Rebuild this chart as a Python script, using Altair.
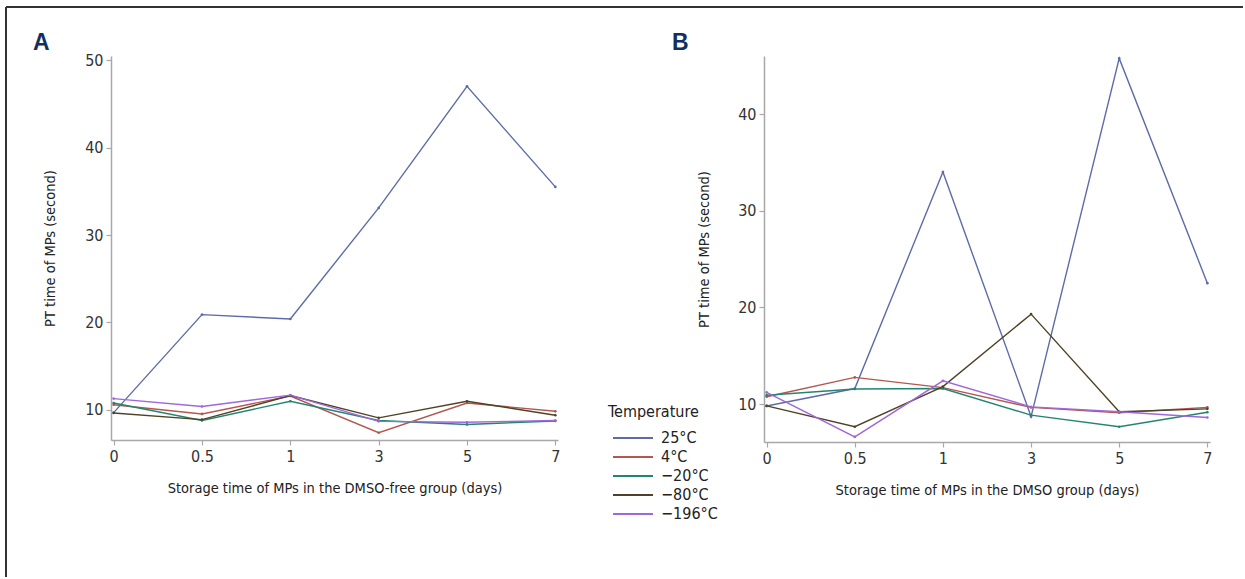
import altair as alt
import pandas as pd

days = ["0", "0.5", "1", "3", "5", "7"]
temps = ["25°C", "4°C", "−20°C", "−80°C", "−196°C"]
colors = ["#5d6ca8", "#b3574f", "#238571", "#4f4226", "#a066dc"]

# Panel A: DMSO-free group
a_25 = [9.7, 20.9, 20.4, 33.1, 47.0, 35.5]
a_4 = [10.6, 9.55, 11.6, 7.4, 10.8, 9.85]
a_m20 = [10.8, 8.8, 11.0, 8.8, 8.35, 8.75]
a_m80 = [9.66, 8.9, 11.65, 9.1, 11.0, 9.4]
a_m196 = [11.3, 10.4, 11.7, 8.7, 8.6, 8.8]

# Panel B: DMSO group
b_25 = [9.8, 11.6, 34.0, 8.7, 45.75, 22.5]
b_4 = [10.75, 12.75, 11.7, 9.65, 9.1, 9.65]
b_m20 = [10.9, 11.55, 11.6, 8.85, 7.65, 9.15]
b_m80 = [9.8, 7.65, 11.8, 19.3, 9.2, 9.5]
b_m196 = [11.2, 6.6, 12.4, 9.7, 9.2, 8.6]

a_ticks = [10, 20, 30, 40, 50]
b_ticks = [10, 20, 30, 40]

FONT = "DejaVu Sans Condensed, Roboto, sans-serif"
LETTER_FONT = "Liberation Sans"


def long_df(series):
    rows = []
    for t, vals in zip(temps, series):
        for d, v in zip(days, vals):
            rows.append({"day": d, "temp": t, "pt": v})
    return pd.DataFrame(rows)


def panel(series, ydom, yticks, xtitle, width, height, ytitle_x, letter, letter_x, legend):
    df = long_df(series)
    if legend is not None:
        color = alt.Color("temp:N", sort=temps,
                          scale=alt.Scale(domain=temps, range=colors), legend=legend)
    else:
        color = alt.Color("temp:N", sort=temps,
                          scale=alt.Scale(domain=temps, range=colors), legend=None)
    lines = alt.Chart(df).mark_line(
        strokeWidth=1.4,
        point=alt.OverlayMarkDef(size=7, filled=True, opacity=1),
    ).encode(
        x=alt.X(
            "day:N",
            sort=days,
            scale=alt.Scale(type="point", padding=0.03),
            axis=alt.Axis(title=xtitle, labelAngle=0, titleY=48, titleBaseline="middle"),
        ),
        y=alt.Y(
            "pt:Q",
            scale=alt.Scale(domain=ydom, nice=False, zero=False),
            axis=alt.Axis(
                values=yticks,
                title="PT time of MPs (second)",
                titleX=ytitle_x,
                titleBaseline="middle",
            ),
        ),
        color=color,
    )
    lab = alt.Chart(pd.DataFrame({"t": [letter]})).mark_text(
        font=LETTER_FONT, fontSize=23, fontWeight="bold", color="#12305f",
        align="left", baseline="alphabetic",
    ).encode(text="t:N", x=alt.value(letter_x), y=alt.value(-6))
    return alt.layer(lines, lab).properties(width=width, height=height)


legend_a = alt.Legend(
    title="Temperature",
    orient="none",
    legendX=497,
    legendY=348,
    symbolType="M-5,0H5",
    symbolSize=64,
    symbolStrokeWidth=2,
    symbolOffset=17,
    labelOffset=20,
    labelFont=FONT,
    labelFontSize=16,
    labelColor="#222",
    titleFont=FONT,
    titleFontSize=16,
    titleFontWeight="normal",
    titleColor="#222",
    titlePadding=10,
    rowPadding=3,
    padding=0,
)

A = panel(
    [a_25, a_4, a_m20, a_m80, a_m196], [6.57, 50.46], a_ticks,
    "Storage time of MPs in the DMSO-free group (days)",
    447, 384, -61, "A", -78, legend_a,
)

border_top = alt.Chart(pd.DataFrame({"d": [0]})).mark_rule(color="#333", strokeWidth=2).encode(
    x=alt.value(-105), x2=alt.value(1132), y=alt.value(-49)
)
border_left = alt.Chart(pd.DataFrame({"d": [0]})).mark_rule(color="#333", strokeWidth=2).encode(
    x=alt.value(-105), y=alt.value(-49), y2=alt.value(521)
)
A = alt.layer(A, border_top, border_left)

B = panel(
    [b_25, b_4, b_m20, b_m80, b_m196], [6.07, 46.0], b_ticks,
    "Storage time of MPs in the DMSO group (days)",
    446, 386, -60, "B", -92, None,
)

chart = alt.hconcat(A, B, spacing=206, bounds="flush").resolve_scale(
    color="independent"
).properties(
    padding={"left": 5, "top": 6, "right": 0, "bottom": 0},
    background="white",
).configure_view(stroke=None).configure_axis(
    grid=False,
    domainColor="#a8a8a8",
    domainWidth=1.5,
    tickColor="#a8a8a8",
    tickWidth=1.2,
    tickSize=5,
    labelFont=FONT,
    labelFontSize=16,
    labelColor="#333",
    labelPadding=3,
    titleFont=FONT,
    titleFontSize=14.5,
    titleFontWeight="normal",
    titleColor="#222",
)

chart.save("out.html", embed_options={"renderer": "svg", "actions": False})
